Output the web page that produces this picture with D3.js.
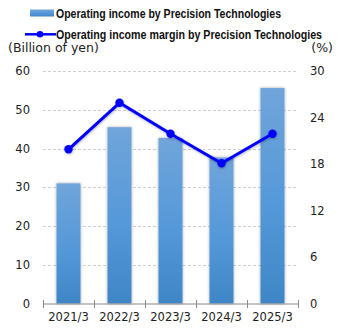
<!DOCTYPE html>
<html>
<head>
<meta charset="utf-8">
<script src="https://cdn.jsdelivr.net/npm/d3@7"></script>
<style>
  html, body { margin: 0; padding: 0; background: #fff; }
  svg { display: block; }
</style>
</head>
<body>
<svg id="chart" width="345" height="330"></svg>
<script>
// Fiscal years (ending March)
const categories = ["2021/3", "2022/3", "2023/3", "2024/3", "2025/3"];
// Operating income, billion yen
const incomeValues = [31.0, 45.5, 42.7, 37.7, 55.6];
// Operating income margin, %
const marginValues = [19.9, 25.9, 21.9, 18.1, 21.9];
const leftTicks = [0, 10, 20, 30, 40, 50, 60];
const rightTicks = [0, 6, 12, 18, 24, 30];
const legendLabels = [
  "Operating income by Precision Technologies",
  "Operating income margin by Precision Technologies"
];

const svg = d3.select("#chart");
const plot = { left: 43, right: 298, top: 71, bottom: 303.5 };
const tickFont = "Verdana, 'DejaVu Sans', sans-serif";

const x = d3.scaleBand().domain(categories).range([plot.left, plot.right]).paddingInner(0).paddingOuter(0);
const yL = d3.scaleLinear().domain([0, 60]).range([plot.bottom, plot.top]);
const yR = d3.scaleLinear().domain([0, 30]).range([plot.bottom, plot.top]);

const defs = svg.append("defs");
const grad = defs.append("linearGradient").attr("id", "barGrad")
  .attr("x1", 0).attr("y1", 0).attr("x2", 0).attr("y2", 1);
grad.append("stop").attr("offset", "0%").attr("stop-color", "#70a5da");
grad.append("stop").attr("offset", "55%").attr("stop-color", "#5598d9");
grad.append("stop").attr("offset", "100%").attr("stop-color", "#3f86c6");

const shadow = defs.append("filter").attr("id", "shadow")
  .attr("x", "-30%").attr("y", "-10%").attr("width", "160%").attr("height", "120%");
shadow.append("feDropShadow").attr("dx", 0).attr("dy", 0).attr("stdDeviation", 1.6)
  .attr("flood-color", "#000").attr("flood-opacity", 0.35);

const lineShadow = defs.append("filter").attr("id", "lineShadow")
  .attr("x", "-10%").attr("y", "-20%").attr("width", "120%").attr("height", "140%");
lineShadow.append("feDropShadow").attr("dx", 0.5).attr("dy", 1).attr("stdDeviation", 0.8)
  .attr("flood-color", "#000").attr("flood-opacity", 0.3);

// Grid lines
svg.append("g").selectAll("line").data(leftTicks.filter(d => d > 0)).join("line")
  .attr("x1", plot.left).attr("x2", plot.right)
  .attr("y1", d => Math.round(yL(d)) + 0.5).attr("y2", d => Math.round(yL(d)) + 0.5)
  .attr("stroke", "#cfcfcf").attr("stroke-width", 1).attr("stroke-dasharray", "3,2");

// Left axis labels
svg.append("g").selectAll("text").data(leftTicks).join("text")
  .attr("x", 30).attr("y", d => yL(d)).attr("dy", "0.35em")
  .attr("text-anchor", "end").attr("font-family", tickFont).attr("font-size", 11.5)
  .attr("fill", "#222").text(d => d);

// Right axis labels
svg.append("g").selectAll("text").data(rightTicks).join("text")
  .attr("x", 310).attr("y", d => yR(d)).attr("dy", "0.35em")
  .attr("text-anchor", "start").attr("font-family", tickFont).attr("font-size", 11.5)
  .attr("fill", "#222").text(d => d);

// Axis titles
svg.append("text").attr("x", 8).attr("y", 52).attr("font-family", tickFont)
  .attr("font-size", 12.5).attr("fill", "#222").text("(Billion of yen)");
svg.append("text").attr("x", 333).attr("y", 52).attr("text-anchor", "end").attr("font-family", tickFont)
  .attr("font-size", 12.5).attr("fill", "#222").text("(%)");

// Bars
const barW = 24;
svg.append("g").selectAll("rect").data(incomeValues).join("rect")
  .attr("x", (d, i) => x(categories[i]) + x.bandwidth() / 2 - barW / 2)
  .attr("y", d => yL(d))
  .attr("width", barW)
  .attr("height", d => yL(0) - yL(d))
  .attr("fill", "url(#barGrad)")
  .attr("filter", "url(#shadow)");

// X axis
const xAxis = svg.append("g").attr("transform", `translate(0,${plot.bottom + 0.5})`);
xAxis.append("line").attr("x1", plot.left).attr("x2", plot.right + 1)
  .attr("stroke", "#888").attr("stroke-width", 1);
const bounds = categories.map(c => x(c)).concat([plot.right]);
xAxis.selectAll("line.tick").data(bounds).join("line").attr("class", "tick")
  .attr("x1", d => Math.round(d) + 0.5).attr("x2", d => Math.round(d) + 0.5)
  .attr("y1", -4).attr("y2", 4).attr("stroke", "#888");
xAxis.selectAll("text").data(categories).join("text")
  .attr("x", d => x(d) + x.bandwidth() / 2).attr("y", 17)
  .attr("text-anchor", "middle").attr("font-family", tickFont).attr("font-size", 11.5)
  .attr("fill", "#222").text(d => d);

// Margin line
const line = d3.line()
  .x((d, i) => x(categories[i]) + x.bandwidth() / 2)
  .y(d => yR(d));
const lg = svg.append("g").attr("filter", "url(#lineShadow)");
lg.append("path").datum(marginValues).attr("d", line)
  .attr("fill", "none").attr("stroke", "#0000ff").attr("stroke-width", 3)
  .attr("stroke-linejoin", "round");
lg.selectAll("circle").data(marginValues).join("circle")
  .attr("cx", (d, i) => x(categories[i]) + x.bandwidth() / 2)
  .attr("cy", d => yR(d)).attr("r", 4.2).attr("fill", "#0000ff");

// Legend
const legendFont = "'Liberation Sans', Arial, sans-serif";
svg.append("rect").attr("x", 30).attr("y", 9.5).attr("width", 24).attr("height", 7)
  .attr("fill", "url(#barGrad)");
svg.append("text").attr("x", 56).attr("y", 18).attr("font-family", legendFont)
  .attr("font-size", 13).attr("font-weight", "bold").attr("fill", "#111")
  .attr("textLength", 225).attr("lengthAdjust", "spacingAndGlyphs")
  .text(legendLabels[0]);
svg.append("line").attr("x1", 25).attr("x2", 56).attr("y1", 34.3).attr("y2", 34.3)
  .attr("stroke", "#0000ff").attr("stroke-width", 2.5);
svg.append("circle").attr("cx", 40).attr("cy", 34.3).attr("r", 3.3).attr("fill", "#0000ff");
svg.append("text").attr("x", 56).attr("y", 38.5).attr("font-family", legendFont)
  .attr("font-size", 12.5).attr("font-weight", "bold").attr("fill", "#111")
  .attr("textLength", 266).attr("lengthAdjust", "spacingAndGlyphs")
  .text(legendLabels[1]);
</script>
</body>
</html>
